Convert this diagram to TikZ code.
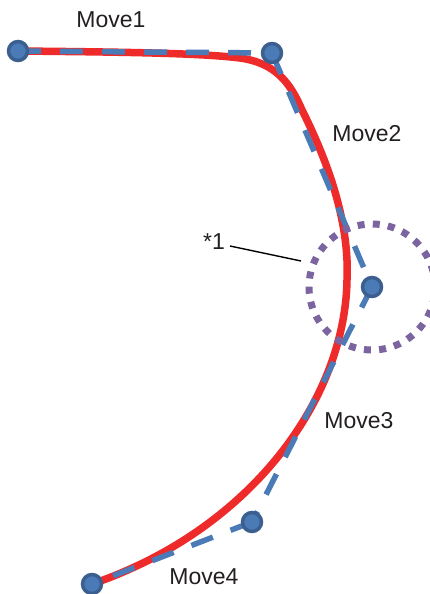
\documentclass[tikz,border=0pt]{standalone}
\usepackage{fontspec}
\setmainfont{Liberation Sans}
\definecolor{redc}{HTML}{EE2A2A}
\definecolor{bluec}{HTML}{4A7BB7}
\definecolor{bluedark}{HTML}{3B5F8E}
\definecolor{purplec}{HTML}{7B64A0}
\definecolor{textc}{HTML}{231F20}
\begin{document}
\begin{tikzpicture}[x=1pt,y=-1pt,
  ptnode/.style={circle,draw=bluedark,fill=bluec,line width=3.5pt,minimum size=19pt,inner sep=0pt},
  bluedash/.style={draw=bluec,line width=5.5pt,dash pattern=on 23pt off 19pt},
  redline/.style={draw=redc,line width=7.5pt,line cap=round},
  dotcirc/.style={draw=purplec,line width=7pt,dash pattern=on 7pt off 8.2pt},
  lbl/.style={text=textc,font=\fontsize{23}{27}\selectfont,inner sep=0pt},
  leader/.style={draw=black,line width=1.4pt}]
\useasboundingbox (0,0) rectangle (429,594);
\coordinate (p1) at (18,51);
\coordinate (p2) at (272,53);
\coordinate (p3) at (372,287);
\coordinate (p4) at (252,522);
\coordinate (p5) at (92,584);
% red path
\draw[redline] (p1) .. controls (120,52) and (200,53) .. (240,58)
  .. controls (275,63) and (290,82) .. (302,110)
  .. controls (322,150) and (350,215) .. (347,280)
  .. controls (345,400) and (250,530) .. (p5);
% dashed polyline
\draw[bluedash] (p1) -- (p2);
\draw[bluedash] (p2) -- (p3);
\draw[bluedash] (p3) -- (p4);
\draw[bluedash] (p4) -- (p5);
% dotted circle
\draw[dotcirc] (p3) circle (63pt);
% point nodes
\node[ptnode] (n1) at (p1) {};
\node[ptnode] (n2) at (p2) {};
\node[ptnode] (n3) at (p3) {};
\node[ptnode] (n4) at (p4) {};
\node[ptnode] (n5) at (p5) {};
% labels
\node[lbl] (m1) at (111,20) {Move1};
\node[lbl] (m2) at (367,134) {Move2};
\node[lbl] (m3) at (359,421) {Move3};
\node[lbl] (m4) at (204,577) {Move4};
\node[lbl] (star) at (214,242) {*1};
\coordinate (l1) at (230,246);
\coordinate (l2) at (301,261);
\draw[leader] (l1) -- (l2);
\end{tikzpicture}
\end{document}
